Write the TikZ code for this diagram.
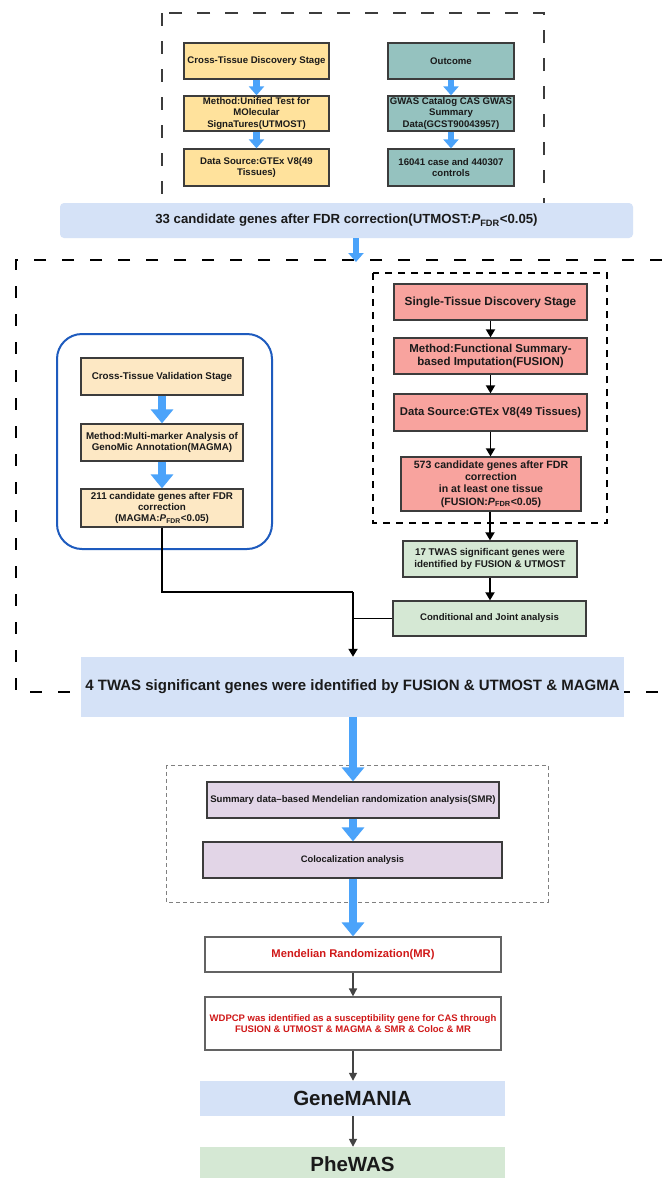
\documentclass[tikz,border=0pt]{standalone}
\usepackage{fontspec}
\setmainfont{Liberation Sans}
\usetikzlibrary{arrows.meta}
\definecolor{txtc}{HTML}{1A1A1A}
\definecolor{bordc}{HTML}{3C3C3C}
\definecolor{yel}{HTML}{FFE29C}
\definecolor{tealbox}{HTML}{95C2BF}
\definecolor{barblue}{HTML}{D5E2F7}
\definecolor{valy}{HTML}{FDE8C4}
\definecolor{salmonbox}{HTML}{F8A39E}
\definecolor{grn}{HTML}{D5E8D4}
\definecolor{lav}{HTML}{E2D5E7}
\definecolor{arrblue}{HTML}{4BA3FA}
\definecolor{frameblue}{HTML}{1E5BBE}
\definecolor{redtxt}{HTML}{D01818}
\definecolor{darkarr}{HTML}{444444}
\newcommand{\fsz}[1]{\fontsize{#1pt}{\dimexpr #1pt*115/100\relax}\selectfont\bfseries}
\newcommand{\pfdr}{\textit{P}\textsubscript{FDR}}
\tikzset{
  box/.style={draw=bordc, line width=1.3pt, inner sep=1pt, align=center, text=txtc},
  ybox/.style={box, fill=yel, font=\fsz{9.6}},
  tbox/.style={box, fill=tealbox, font=\fsz{9.6}},
  vbox/.style={box, fill=valy, font=\fsz{9.8}},
  rbox/.style={box, fill=salmonbox, font=\fsz{11.3}},
  gbox/.style={box, fill=grn, font=\fsz{9.6}},
  lbox/.style={box, fill=lav, font=\fsz{9.5}},
  wbox/.style={box, draw=bordc!80, line width=1.2pt, fill=white, text=redtxt},
  barbox/.style={fill=barblue, inner sep=0pt, align=center, text=txtc},
  topdash/.style={draw=bordc, line width=1.5pt, dash pattern=on 13pt off 15pt},
  bigdash/.style={draw=black, line width=2pt, dash pattern=on 12pt off 16pt},
  reddash/.style={draw=black, line width=2.5pt, dash pattern=on 7pt off 6pt},
  lowdash/.style={draw=gray, line width=1pt, dash pattern=on 4pt off 3pt},
  bluesm/.style={draw=arrblue, line width=6.5pt, -{Triangle[width=15pt,length=9pt]}, color=arrblue},
  bluebig/.style={draw=arrblue, line width=8.5pt, -{Triangle[width=22pt,length=14pt]}, color=arrblue},
  blkline/.style={draw=black, line width=1.8pt},
  blkarr/.style={blkline, -{Triangle[width=9pt,length=8pt]}},
  grayarr/.style={draw=darkarr, line width=1.6pt, -{Triangle[width=8pt,length=8pt]}},
}
\begin{document}
\begin{tikzpicture}[x=1pt,y=-1pt]
\useasboundingbox (0,0) rectangle (662,1178);
\fill[white] (0,0) rectangle (662,1178);
% frames
\draw[topdash] (162,13) rectangle (544,215);
\draw[bigdash] (662,260) -- (16,260) -- (16,692) -- (662,692);
\draw[reddash] (373,273) rectangle (607,523);
\draw[lowdash] (166,765) rectangle (548,902);
\draw[frameblue, line width=2pt, rounded corners=25pt] (57,334) rectangle (272,549);
% top stage
\node[ybox, minimum width=145pt, minimum height=36pt] (y1) at (256.5,61) {Cross-Tissue Discovery Stage};
\node[ybox, minimum width=145pt, minimum height=35pt] (y2) at (256.5,113.5) {Method:Unified Test for\\MOlecular\\SignaTures(UTMOST)};
\node[ybox, minimum width=145pt, minimum height=37pt] (y3) at (256.5,167.5) {Data Source:GTEx V8(49\\Tissues)};
\node[tbox, minimum width=126pt, minimum height=36pt] (t1) at (451,61) {Outcome};
\node[tbox, minimum width=126pt, minimum height=35pt] (t2) at (451,113.5) {GWAS Catalog CAS GWAS\\Summary\\Data(GCST90043957)};
\node[tbox, minimum width=126pt, minimum height=37pt] (t3) at (451,167.5) {16041 case and 440307\\controls};
\draw[bluesm] (y1.south) -- (y2.north);
\draw[bluesm] (y2.south) -- (y3.north);
\draw[bluesm] (t1.south) -- (t2.north);
\draw[bluesm] (t2.south) -- (t3.north);
\node[barbox, rounded corners=4pt, minimum width=573pt, minimum height=35pt, font=\fsz{13.2}] (bar33) at (346.5,220.5) {33 candidate genes after FDR correction(UTMOST:\pfdr<0.05)};
\coordinate (d1) at (356,262);
\draw[bluesm] (bar33.south -| d1) -- (d1);
% validation
\node[vbox, minimum width=162pt, minimum height=37pt] (v1) at (162,376.5) {Cross-Tissue Validation Stage};
\node[vbox, minimum width=162pt, minimum height=37pt] (v2) at (162,442.5) {Method:Multi-marker Analysis of\\GenoMic Annotation(MAGMA)};
\node[vbox, minimum width=162pt, minimum height=38pt] (v3) at (162,508) {211 candidate genes after FDR\\correction\\(MAGMA:\pfdr<0.05)};
\draw[bluebig] (v1.south) -- (v2.north);
\draw[bluebig] (v2.south) -- (v3.north);
% single tissue
\node[rbox, minimum width=193pt, minimum height=36pt, font=\fsz{11.8}] (r1) at (490.5,302) {Single-Tissue Discovery Stage};
\node[rbox, minimum width=193pt, minimum height=36pt, font=\fsz{11.5}] (r2) at (490.5,356) {Method:Functional Summary-\\based Imputation(FUSION)};
\node[rbox, minimum width=193pt, minimum height=37pt] (r3) at (490.5,412.5) {Data Source:GTEx V8(49 Tissues)};
\node[rbox, minimum width=180pt, minimum height=54pt, font=\fsz{10.6}] (r4) at (491,484) {573 candidate genes after FDR\\correction\\in at least one tissue\\(FUSION:\pfdr<0.05)};
\draw[blkarr] (r1.south) -- (r2.north);
\draw[blkarr] (r2.south) -- (r3.north);
\draw[blkarr] (r3.south) -- (r3.south |- r4.north);
\node[gbox, minimum width=174pt, minimum height=36pt, font=\fsz{9.8}] (g1) at (490,559) {17 TWAS significant genes were\\identified by FUSION \& UTMOST};
\draw[blkarr] (r4.south -| g1) -- (g1.north);
\node[gbox, minimum width=193pt, minimum height=35pt] (cond) at (489.5,618.5) {Conditional and Joint analysis};
\draw[blkarr] (g1.south) -- (g1.south |- cond.north);
% merge
\node[barbox, minimum width=543pt, minimum height=60pt, font=\fsz{15}] (twas4) at (352.5,687) {4 TWAS significant genes were identified by FUSION \& UTMOST \& MAGMA};
\coordinate (j1) at (353,592);
\draw[blkline] (v3.south) |- (j1);
\draw[blkarr] (j1) -- (j1 |- twas4.north);
\draw[blkline] (cond.west) -- (cond.west -| j1);
% lower
\node[lbox, minimum width=292pt, minimum height=36pt, font=\fsz{9.6}] (smr) at (353,800) {Summary data–based Mendelian randomization analysis(SMR)};
\node[lbox, minimum width=299pt, minimum height=36pt, font=\fsz{9.4}] (coloc) at (352.5,860) {Colocalization analysis};
\node[wbox, minimum width=296pt, minimum height=35pt, font=\fsz{11.2}] (mr) at (353,954.5) {Mendelian Randomization(MR)};
\node[wbox, minimum width=296pt, minimum height=53pt, font=\fsz{9.5}] (wd) at (353,1023.5) {WDPCP was identified as a susceptibility gene for CAS through\\FUSION \& UTMOST \& MAGMA \& SMR \& Coloc \& MR};
\node[barbox, minimum width=305pt, minimum height=35pt, font=\fsz{20.5}] (gm) at (352.5,1098.5) {GeneMANIA};
\node[barbox, fill=grn, minimum width=305pt, minimum height=35pt, font=\fsz{20.5}] (ph) at (352.5,1164.5) {PheWAS};
\draw[bluebig] (twas4.south -| smr) -- (smr.north);
\draw[bluebig] (smr.south) -- (smr.south |- coloc.north);
\draw[bluebig] (smr.south |- coloc.south) -- (smr.south |- mr.north);
\draw[grayarr] (mr.south) -- (wd.north);
\draw[grayarr] (wd.south) -- (wd.south |- gm.north);
\draw[grayarr] (wd.south |- gm.south) -- (wd.south |- ph.north);
\end{tikzpicture}
\end{document}
